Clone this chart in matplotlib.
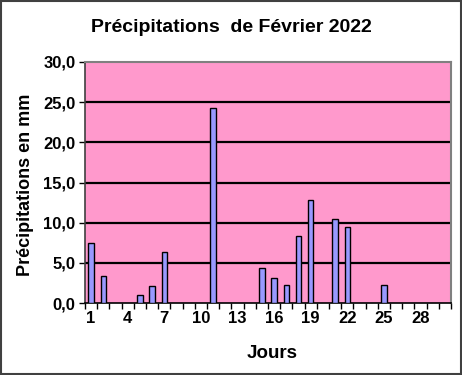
import matplotlib
matplotlib.use("Agg")
import matplotlib.pyplot as plt
from matplotlib.patches import Rectangle
from matplotlib.ticker import FixedLocator, FixedFormatter

plt.rcParams['font.family'] = ['Liberation Sans', 'DejaVu Sans']

days = [1, 2, 5, 6, 7, 11, 15, 16, 17, 18, 19, 21, 22, 25]
rain = [7.5, 3.3, 1.0, 2.1, 6.4, 24.3, 4.4, 3.1, 2.3, 8.4, 12.8, 10.5, 9.5, 2.3]
n_categories = 30
tick_days = [1, 4, 7, 10, 13, 16, 19, 22, 25, 28]
y_ticks = [0, 5, 10, 15, 20, 25, 30]
y_labels = ["0,0", "5,0", "10,0", "15,0", "20,0", "25,0", "30,0"]

fig = plt.figure(figsize=(4.62, 3.75), dpi=100)
fig.patch.set_facecolor('white')
ax = fig.add_axes([85/462, 1-303/375, (451-85)/462, (303-62)/375])
ax.set_facecolor('#FF99CC')

ax.bar(days, rain, width=0.45, color='#9999FF', edgecolor='black', linewidth=1.0, zorder=3)

ax.set_xlim(0.5, n_categories + 0.5)
ax.set_ylim(0, 30)

for y in y_ticks[1:-1]:
    ax.axhline(y, color='black', linewidth=1.6, zorder=2)

ax.yaxis.set_major_locator(FixedLocator(y_ticks))
ax.yaxis.set_major_formatter(FixedFormatter(y_labels))
ax.tick_params(axis='y', direction='out', length=4, width=1, color='black',
               labelsize=12, pad=3)

bounds = [i + 0.5 for i in range(0, n_categories + 1)]
ax.xaxis.set_major_locator(FixedLocator(bounds))
ax.xaxis.set_major_formatter(FixedFormatter([''] * len(bounds)))
ax.xaxis.set_minor_locator(FixedLocator(tick_days))
ax.xaxis.set_minor_formatter(FixedFormatter([str(d) for d in tick_days]))
ax.tick_params(axis='x', which='major', direction='out', length=4, width=1, color='black')
ax.tick_params(axis='x', which='minor', length=0, labelsize=12, pad=6)

for lbl in ax.get_yticklabels() + ax.get_xticklabels(minor=True):
    lbl.set_fontweight('bold')

for s in ['top', 'right']:
    ax.spines[s].set_color('#808080')
    ax.spines[s].set_linewidth(1.5)
ax.spines['left'].set_color('#404040')
ax.spines['bottom'].set_color('black')
ax.spines['left'].set_linewidth(1.2)
ax.spines['bottom'].set_linewidth(1.2)

fig.text(231/462, 1-28/375, "Précipitations  de Février 2022", ha='center', va='center',
         fontsize=14, fontweight='bold')
fig.text(272/462, 1-353/375, "Jours", ha='center', va='center', fontsize=13.5, fontweight='bold')
fig.text(26/462, 1-185/375, "Précipitations en mm", ha='center', va='center',
         rotation=90, fontsize=13, fontweight='bold')

fig.patches.append(Rectangle((0.002, 0.003), 0.996, 0.994, transform=fig.transFigure,
                             fill=False, edgecolor='#404040', linewidth=1.5))

fig.savefig('out.png', dpi=100)
